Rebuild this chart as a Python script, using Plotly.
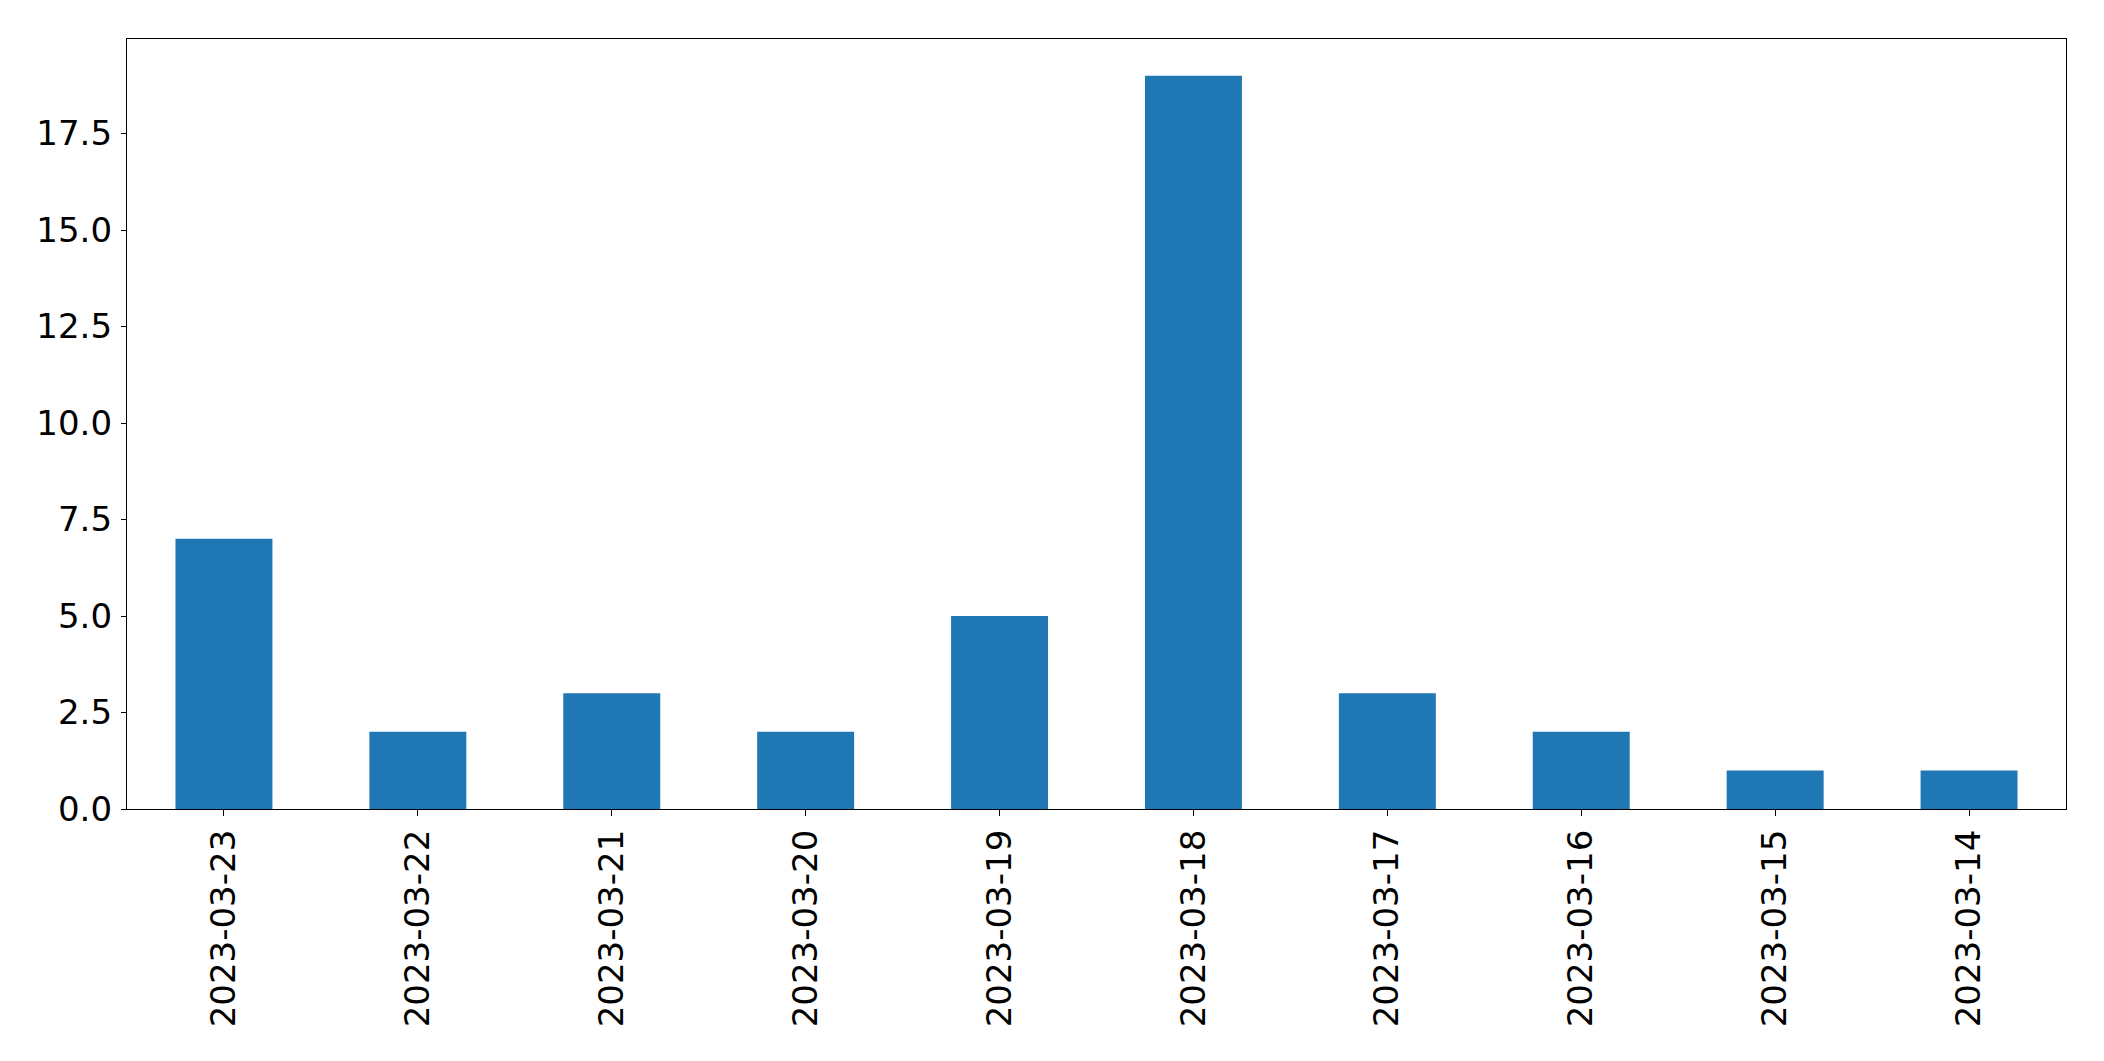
import plotly.graph_objects as go

dates = ["2023-03-23", "2023-03-22", "2023-03-21", "2023-03-20", "2023-03-19",
         "2023-03-18", "2023-03-17", "2023-03-16", "2023-03-15", "2023-03-14"]
counts = [7, 2, 3, 2, 5, 19, 3, 2, 1, 1]
y_ticks = [0.0, 2.5, 5.0, 7.5, 10.0, 12.5, 15.0, 17.5]
y_tick_labels = ["0.0", "2.5", "5.0", "7.5", "10.0", "12.5", "15.0", "17.5"]

font = dict(family="DejaVu Sans", size=34, color="black")

fig = go.Figure(go.Bar(x=list(range(len(dates))), y=counts, width=0.5,
                       marker=dict(color="#1f77b4", line=dict(width=0))))

fig.update_layout(
    width=2088, height=1045,
    margin=dict(l=119, r=30, t=31, b=244, autoexpand=False),
    plot_bgcolor="white", paper_bgcolor="white",
    showlegend=False, font=font,
)
fig.update_xaxes(
    range=[-0.5, 9.5], tickmode="array", tickvals=list(range(len(dates))),
    ticktext=dates, tickangle=-90, ticks="outside", ticklen=6, tickwidth=1.3,
    tickcolor="black", showline=True, linecolor="black", linewidth=1.3,
    mirror=True, showgrid=False, zeroline=False, tickfont=font,
    ticklabelstandoff=0,
)
fig.update_yaxes(
    range=[0, 19.95], tickmode="array", tickvals=y_ticks, ticktext=y_tick_labels,
    ticks="outside", ticklen=5, tickwidth=1.3, tickcolor="black",
    showline=True, linecolor="black", linewidth=1.3, mirror=True,
    showgrid=False, zeroline=False, tickfont=font, ticklabelstandoff=2,
)

fig.write_html("out.html")
